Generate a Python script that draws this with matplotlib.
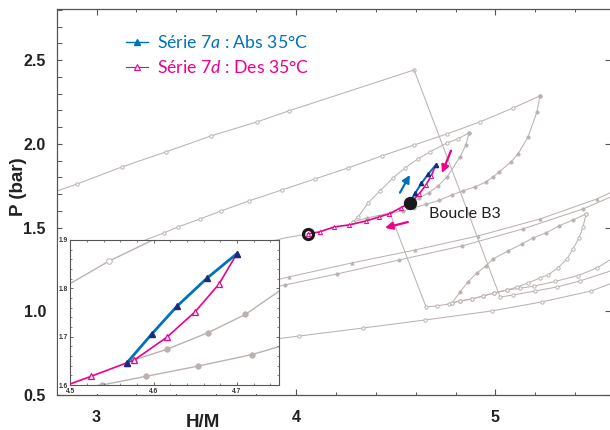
import numpy as np
import matplotlib.pyplot as plt
from matplotlib.lines import Line2D
from matplotlib.patches import Rectangle
from matplotlib.ticker import MultipleLocator

plt.rcParams['mathtext.fontset'] = 'custom'
plt.rcParams['mathtext.rm'] = 'Lato'
plt.rcParams['mathtext.it'] = 'Lato:italic'

BLUE = '#0072BC'
PINK = '#EC008C'
NAVY = '#1D2C7A'
GREY = '#BBB2B0'
TXT = '#231F20'

# --- series 7a (absorption) and 7d (desorption), 35 C ---
abs_x = [4.568, 4.598, 4.628, 4.664, 4.700]
abs_y = [1.646, 1.706, 1.763, 1.821, 1.872]
des_x = [4.060, 4.118, 4.193, 4.268, 4.353, 4.418, 4.468, 4.525, 4.568,
         4.577, 4.616, 4.650, 4.678, 4.700]
des_y = [1.462, 1.474, 1.504, 1.516, 1.540, 1.564, 1.582, 1.618, 1.646,
         1.652, 1.699, 1.752, 1.808, 1.872]

# --- background (grey) isotherm branches ---
loopA_up_x = [2.78, 2.902, 3.128, 3.348, 3.574, 3.805, 3.965, 4.592]
loopA_up_y = [1.709, 1.760, 1.862, 1.952, 2.047, 2.131, 2.197, 2.441]
loopA_drop_x = [4.592, 5.023]
loopA_drop_y = [2.441, 1.085]
loopA_tail_x = [5.023, 5.088, 5.198, 5.308, 5.424, 5.60]
loopA_tail_y = [1.085, 1.097, 1.121, 1.145, 1.181, 1.250]

loopB_up_x = [3.10, 3.338, 3.409, 3.519, 3.624, 3.764, 3.930, 4.095, 4.261,
              4.431, 4.592, 4.757, 4.922, 5.088, 5.223]
loopB_up_y = [1.36, 1.468, 1.504, 1.551, 1.599, 1.659, 1.725, 1.790, 1.856,
              1.928, 1.993, 2.059, 2.131, 2.214, 2.286]
loopB_down_x = [5.223, 5.208, 5.163, 5.113, 5.078, 5.018, 4.987, 4.952, 4.897,
                4.837, 4.782, 4.718, 4.653, 4.591, 4.538]
loopB_down_y = [2.286, 2.191, 2.041, 1.940, 1.892, 1.832, 1.802, 1.772, 1.743,
                1.719, 1.695, 1.663, 1.639, 1.618, 1.600]
loopB_drop_x = [4.538, 4.471, 4.652]
loopB_drop_y = [1.600, 1.587, 1.026]
bottom_x = [4.652, 4.707, 4.767, 4.822, 4.882, 4.937, 4.992, 5.058, 5.123,
            5.193, 5.298, 5.414, 5.509, 5.60]
bottom_y = [1.026, 1.032, 1.044, 1.062, 1.073, 1.091, 1.109, 1.127, 1.138,
            1.150, 1.178, 1.213, 1.259, 1.325]

loopC_link_x = [4.471, 4.356, 4.286]
loopC_link_y = [1.587, 1.557, 1.533]
loopC_up_x = [4.286, 4.311, 4.361, 4.421, 4.486, 4.546, 4.611, 4.672, 4.757,
              4.812, 4.867]
loopC_up_y = [1.533, 1.563, 1.647, 1.719, 1.796, 1.856, 1.910, 1.952, 2.005,
              2.030, 2.065]
loopC_down_x = [4.867, 4.852, 4.822, 4.757, 4.710, 4.665, 4.616, 4.577]
loopC_down_y = [2.065, 1.993, 1.922, 1.802, 1.746, 1.708, 1.674, 1.652]

loopD_up_x = [4.782, 4.822, 4.862, 4.907, 4.952, 4.987, 5.063, 5.133, 5.188,
              5.253, 5.318, 5.388, 5.454]
loopD_up_y = [1.050, 1.115, 1.175, 1.229, 1.271, 1.312, 1.360, 1.402, 1.438,
              1.468, 1.510, 1.545, 1.581]
loopD_down_x = [5.454, 5.439, 5.419, 5.388, 5.358, 5.313, 5.263, 5.223, 5.163,
                5.108, 5.058, 4.992, 4.937, 4.882, 4.822, 4.782]
loopD_down_y = [1.581, 1.504, 1.438, 1.372, 1.312, 1.259, 1.217, 1.199, 1.169,
                1.145, 1.127, 1.109, 1.091, 1.073, 1.062, 1.050]

line1_x = [3.80, 3.965, 4.281, 4.597, 4.912, 5.223, 5.509, 5.60]
line1_y = [1.161, 1.205, 1.289, 1.366, 1.450, 1.551, 1.671, 1.722]
line2_x = [3.80, 3.945, 4.206, 4.516, 4.832, 5.138, 5.439, 5.60]
line2_y = [1.120, 1.157, 1.223, 1.306, 1.390, 1.492, 1.611, 1.694]
line3_x = [3.80, 4.015, 4.336, 4.647, 4.982, 5.233, 5.479, 5.60]
line3_y = [0.820, 0.852, 0.900, 0.948, 1.002, 1.056, 1.121, 1.175]
lead_x = [3.85, 3.945, 4.060]
lead_y = [1.410, 1.438, 1.462]

grey_branches = [
    (loopA_up_x, loopA_up_y, 'open'), (loopA_drop_x, loopA_drop_y, 'none'),
    (loopA_tail_x, loopA_tail_y, 'open'),
    (loopB_up_x, loopB_up_y, 'open'), (loopB_down_x, loopB_down_y, 'filled'),
    (loopB_drop_x, loopB_drop_y, 'none'), (bottom_x, bottom_y, 'open'),
    (loopC_link_x, loopC_link_y, 'filled'), (loopC_up_x, loopC_up_y, 'open'),
    (loopC_down_x, loopC_down_y, 'filled'),
    (loopD_up_x, loopD_up_y, 'filled'), (loopD_down_x, loopD_down_y, 'open'),
    (line1_x, line1_y, 'tri'), (line2_x, line2_y, 'filled'),
    (line3_x, line3_y, 'open'), (lead_x, lead_y, 'none'),
]

# annotation points
b3_pt = (4.571, 1.647)
ring_pt = (4.060, 1.462)
arrows = [((4.521, 1.708), (4.571, 1.814), BLUE),
          ((4.777, 1.959), (4.732, 1.826), PINK),
          ((4.561, 1.533), (4.446, 1.498), PINK)]


def draw_grey(a, ms, lw):
    for x, y, kind in grey_branches:
        if kind == 'none':
            a.plot(x, y, '-', color=GREY, lw=lw, zorder=1)
        elif kind == 'open':
            a.plot(x, y, '-', color=GREY, lw=lw, marker='o', ms=ms,
                   mfc='white', mec=GREY, mew=0.7, zorder=1)
        elif kind == 'filled':
            a.plot(x, y, '-', color=GREY, lw=lw, marker='o', ms=ms,
                   mfc=GREY, mec=GREY, mew=0.5, zorder=1)
        else:
            a.plot(x, y, '-', color=GREY, lw=lw, marker='^', ms=ms,
                   mfc=GREY, mec=GREY, mew=0.5, zorder=1)


fig = plt.figure(figsize=(6.1, 4.3), dpi=100)
ax = fig.add_axes([57 / 610, 35 / 430, 553 / 610, 386 / 430])
ax.set_xlim(2.802, 5.574)
ax.set_ylim(0.5, 2.805)

draw_grey(ax, 2.4, 0.75)
ax.plot(des_x, des_y, '-', color=PINK, lw=1.2, marker='^', ms=3,
        mfc='white', mec=PINK, mew=0.7, zorder=4)
ax.plot(abs_x, abs_y, '-', color=BLUE, lw=1.5, marker='^', ms=3,
        mfc=NAVY, mec=NAVY, zorder=5)
for tail, head, c in arrows:
    ax.annotate('', xy=head, xytext=tail,
                arrowprops=dict(arrowstyle='-|>', color=c, lw=1.6,
                                mutation_scale=11, shrinkA=0, shrinkB=0),
                zorder=6)
ax.plot(*b3_pt, 'o', ms=8.6, color='#1A1A1A', zorder=7)
ax.plot(*ring_pt, 'o', ms=7.2, mfc='none', mec='#1A1A1A', mew=2.3, zorder=7)
ax.text(4.667, 1.581, 'Boucle B3', fontsize=11.5, family='Lato', color=TXT,
        ha='left', va='center', zorder=8)

for s in ['left', 'top', 'bottom']:
    ax.spines[s].set_color('#555555')
    ax.spines[s].set_linewidth(0.9)
ax.spines['right'].set_visible(False)
ax.xaxis.set_major_locator(MultipleLocator(1))
ax.xaxis.set_minor_locator(MultipleLocator(0.2))
ax.yaxis.set_major_locator(MultipleLocator(0.5))
ax.yaxis.set_minor_locator(MultipleLocator(0.1))
ax.tick_params(which='both', direction='in', top=True, colors='#555555',
               labelcolor='#222222')
ax.tick_params(axis='x', which='major', length=4.5, width=0.8, pad=11,
               labelsize=11.5)
ax.tick_params(axis='x', which='minor', length=2.5, width=0.7)
ax.tick_params(axis='y', which='major', length=3.5, width=0.8, pad=8,
               labelsize=11.5, right=True)
ax.tick_params(axis='y', which='minor', length=3.5, width=0.7, right=False)
for lbl in ax.get_xticklabels() + ax.get_yticklabels():
    lbl.set_fontweight('bold')
    lbl.set_family('Liberation Sans')

fig.text(18.5 / 610, 1 - 187 / 430, 'P (bar)', rotation=90, ha='center',
         va='center', fontsize=13.5, fontweight='bold',
         family='Liberation Sans', color='#222222')
fig.text(203 / 610, 1 - 427 / 430, 'H/M', ha='center', va='baseline',
         fontsize=13.5, fontweight='bold', family='Liberation Sans',
         color='#222222')

handles = [Line2D([], [], color=BLUE, lw=1.0, marker='^', ms=5,
                  mfc=BLUE, mec=BLUE),
           Line2D([], [], color=PINK, lw=0.8, marker='^', ms=5,
                  mfc='white', mec=PINK, mew=0.8)]
labels = [r'Série $\mathit{7a}$ : Abs 35°C', r'Série $\mathit{7d}$ : Des 35°C']
leg = ax.legend(handles, labels, loc='upper left',
                bbox_to_anchor=(126 / 610, 1 - 34.5 / 430),
                bbox_transform=fig.transFigure, frameon=False,
                prop={'family': 'Lato', 'size': 12.7}, borderpad=0,
                borderaxespad=0, handlelength=1.25, handletextpad=0.5,
                labelspacing=0.42, numpoints=1)
for t, c in zip(leg.get_texts(), [BLUE, PINK]):
    t.set_color(c)

# white area behind the inset
ax.add_patch(Rectangle((57.8 / 610, (430 - 394.3) / 430), 221.2 / 610,
                       154.3 / 430, transform=fig.transFigure,
                       facecolor='white', edgecolor='none', zorder=3))

ins = fig.add_axes([70.3 / 610, 45 / 430, 208.4 / 610, 145 / 430])
ins.set_xlim(4.5, 4.75)
ins.set_ylim(1.6, 1.9)
draw_grey(ins, 4, 1.0)
ins.plot(des_x, des_y, '-', color=PINK, lw=1.2, marker='^', ms=5,
         mfc='white', mec=PINK, mew=0.9, zorder=4)
ins.plot(abs_x, abs_y, '-', color=BLUE, lw=2.0, marker='^', ms=4.5,
         mfc=NAVY, mec=NAVY, zorder=5)
ins.set_xticks([4.5, 4.6, 4.7])
ins.set_yticks([1.6, 1.7, 1.8, 1.9])
ins.xaxis.set_minor_locator(MultipleLocator(0.02))
ins.yaxis.set_minor_locator(MultipleLocator(0.02))
ins.tick_params(which='both', direction='in', top=True, right=True,
                colors='#555555', labelcolor='#333333', labelsize=4.8,
                pad=2)
ins.tick_params(which='major', length=2.5, width=0.6)
ins.tick_params(which='minor', length=1.5, width=0.5)
for lbl in ins.get_xticklabels() + ins.get_yticklabels():
    lbl.set_fontweight('bold')
    lbl.set_family('Liberation Sans')
for s in ins.spines.values():
    s.set_color('#555555')
    s.set_linewidth(0.8)

fig.savefig('out.png', dpi=100)
